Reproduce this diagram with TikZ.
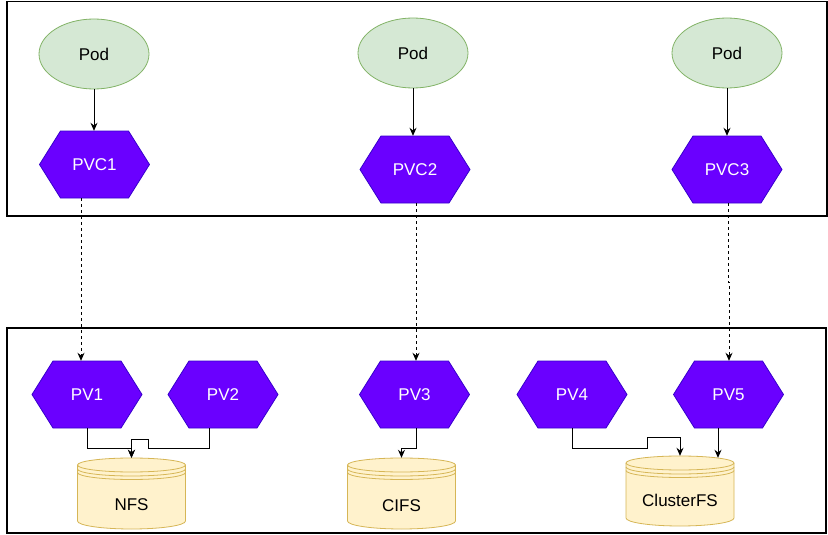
\documentclass[tikz,border=0pt]{standalone}
\usepackage{fontspec}
\setmainfont{Liberation Sans}
\usetikzlibrary{shapes.geometric,arrows.meta,calc}
\definecolor{podfill}{HTML}{D5E8D4}
\definecolor{poddraw}{HTML}{82B366}
\definecolor{hexfill}{HTML}{6A00FF}
\definecolor{hexdraw}{HTML}{3700CC}
\definecolor{cylfill}{HTML}{FFF2CC}
\definecolor{cyldraw}{HTML}{D6B656}
\tikzset{
  podnode/.style={ellipse,draw=poddraw,fill=podfill,line width=0.8pt,minimum width=110pt,minimum height=70pt,inner sep=0pt,font=\fontsize{17}{20}\selectfont},
  hexshape/.style={fill=hexfill,draw=hexdraw,line width=0.8pt},
  hextext/.style={inner sep=0pt,minimum width=110pt,minimum height=67pt,text=white,font=\fontsize{17}{20}\selectfont},
  cylshape/.style={fill=cylfill,draw=cyldraw,line width=0.8pt},
  cyltext/.style={inner sep=0pt,font=\fontsize{17}{20}\selectfont},
  framebox/.style={draw=black,line width=1.2pt},
  arr/.style={draw=black,line width=0.9pt,-{Stealth[length=8pt,width=7pt]}},
  dasharr/.style={arr,dash pattern=on 3pt off 3pt}
}
% hexagon: name, cx, cy, text
\newcommand\myhex[4]{%
  \path[hexshape] (#2-55,#3) -- (#2-34,#3-33.5) -- (#2+34,#3-33.5) -- (#2+55,#3) -- (#2+34,#3+33.5) -- (#2-34,#3+33.5) -- cycle;
  \node[hextext] (#1) at (#2,#3) {#4};}
% cylinder: name, cx, top, height, text, text y
\newcommand\mycyl[6]{%
  \path[cylshape] (#2-54,#3+7) -- (#2-54,#3+#4-8) arc[start angle=180,end angle=360,x radius=54pt,y radius=8pt] -- (#2+54,#3+7) arc[start angle=0,end angle=180,x radius=54pt,y radius=7pt] -- cycle;
  \draw[cyldraw,line width=0.8pt] (#2-54,#3+7) arc[start angle=180,end angle=360,x radius=54pt,y radius=7pt];
  \draw[cyldraw,line width=0.8pt] (#2-54,#3+11) arc[start angle=180,end angle=360,x radius=54pt,y radius=7pt];
  \draw[cyldraw,line width=0.8pt] (#2-54,#3+14.5) arc[start angle=180,end angle=360,x radius=54pt,y radius=7pt];
  \node[inner sep=0pt,minimum width=108pt,minimum height=#4 pt] (#1) at (#2,#3+#4/2) {};
  \node[cyltext] (#1-label) at (#2,#6) {#5};}
\begin{document}
\begin{tikzpicture}[x=1pt,y=-1pt]
\useasboundingbox (0,0) rectangle (828,535);
\fill[white] (0,0) rectangle (828,535);
% frames
\draw[framebox] (7,1.5) rectangle (827,216);
\draw[framebox] (7,328) rectangle (826,533);
% pods
\node[podnode] (pod1) at (94,54) {Pod};
\node[podnode] (pod2) at (413,53) {Pod};
\node[podnode] (pod3) at (727,53) {Pod};
% PVCs
\myhex{pvc1}{94.5}{164.5}{PVC1}
\myhex{pvc2}{415}{169.5}{PVC2}
\myhex{pvc3}{727}{169.5}{PVC3}
% PVs
\myhex{pv1}{87}{394.5}{PV1}
\myhex{pv2}{223}{394.5}{PV2}
\myhex{pv3}{414.5}{394.5}{PV3}
\myhex{pv4}{572}{394.5}{PV4}
\myhex{pv5}{728.5}{394.5}{PV5}
% cylinders
\mycyl{nfs}{131.5}{458}{71}{NFS}{505}
\mycyl{cifs}{401.5}{458}{71}{CIFS}{506}
\mycyl{cfs}{680}{456}{70}{ClusterFS}{500}
% pod to pvc
\draw[arr] (pod1.south) -- (pod1.south |- pvc1.north);
\draw[arr] (pod2.south) -- (pod2.south |- pvc2.north);
\draw[arr] (pod3.south) -- (pod3.south |- pvc3.north);
% pvc to pv (dashed)
\draw[dasharr] ([xshift=-13.5pt]pvc1.south) -- ([xshift=-6pt]pv1.north);
\draw[dasharr] ([xshift=1pt]pvc2.south) -- ([xshift=1.5pt]pv3.north);
\coordinate (jog) at (728,282);
\draw[dasharr] ([xshift=1pt]pvc3.south) -- (jog) -- ++(1,0) -- ([xshift=0.5pt]pv5.north);
% pv to storage
\draw[arr] (pv1.south) -- ++(0,20) -| (nfs.north);
\draw[arr] ([xshift=-14pt]pv2.south) -- ++(0,20) -- ++(-61,0) -- ++(0,-9) -| (nfs.north);
\draw[arr] ([xshift=1.5pt]pv3.south) -- ++(0,20) -| (cifs.north);
\draw[arr] (pv4.south) -- ++(0,20) -- ++(75,0) -- ++(0,-11) -| (cfs.north);
\draw[arr] ([xshift=-10.5pt]pv5.south) -- ([xshift=38pt,yshift=-2pt]cfs.north);
\end{tikzpicture}
\end{document}
